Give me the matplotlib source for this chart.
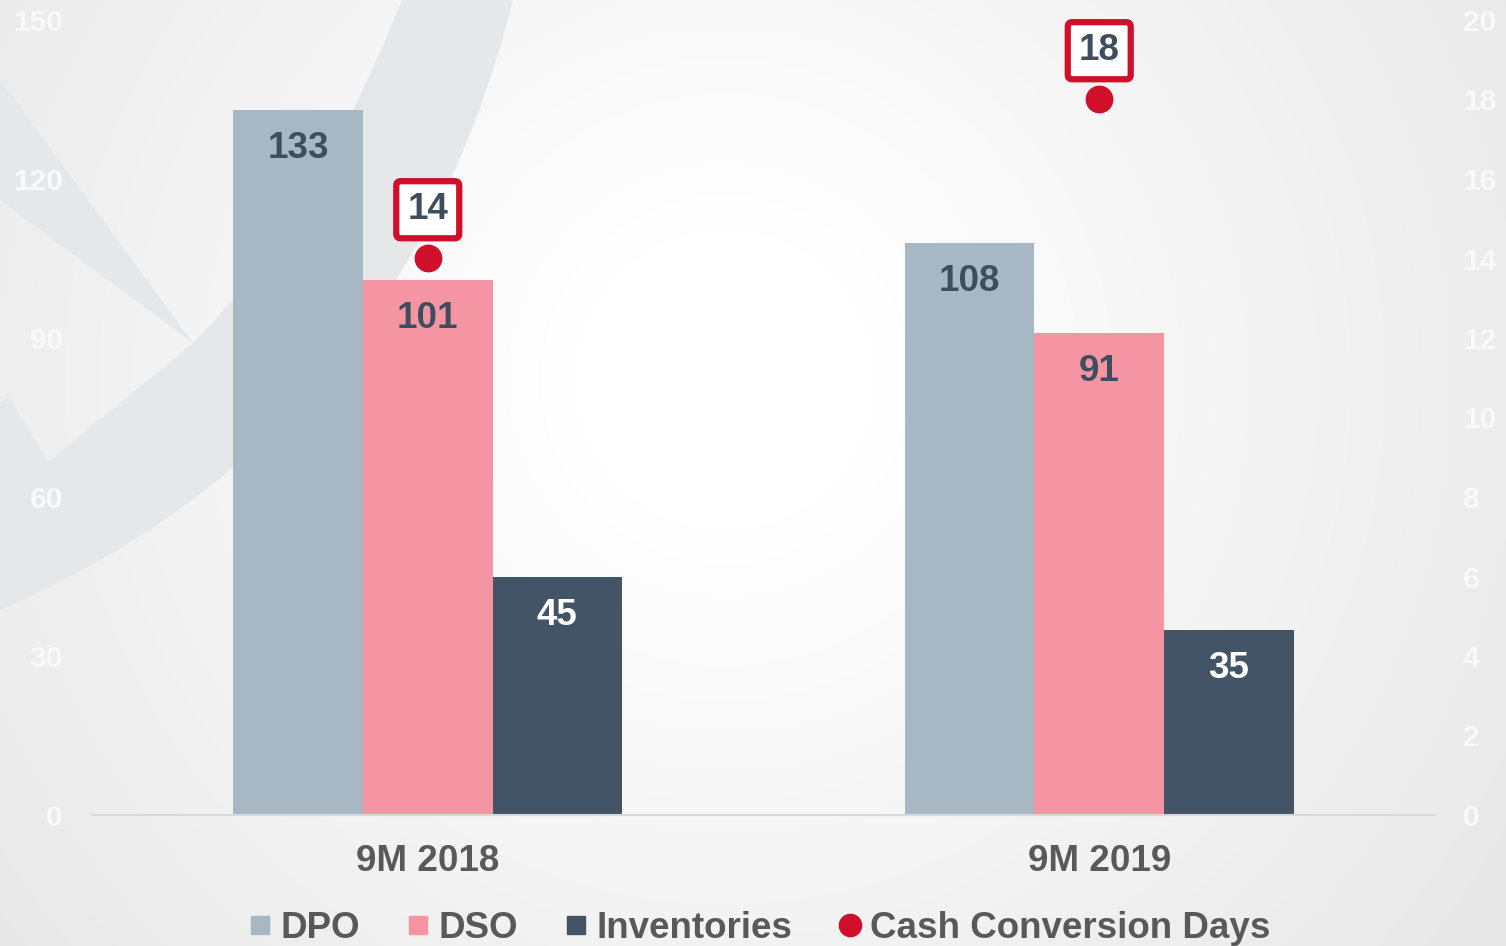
import matplotlib
matplotlib.use('Agg')
import matplotlib.pyplot as plt
from matplotlib.path import Path
from matplotlib.patches import PathPatch, Polygon
from matplotlib.lines import Line2D
import numpy as np

plt.rcParams['font.family'] = ['Liberation Sans', 'DejaVu Sans']
plt.rcParams['font.weight'] = 'bold'

categories = ['9M 2018', '9M 2019']
dpo = [133, 108]
dso = [101, 91]
inventories = [45, 35]
cash_days = [14, 18]
left_ticks = [0, 30, 60, 90, 120, 150]
right_ticks = [0, 2, 4, 6, 8, 10, 12, 14, 16, 18, 20]

c_dpo = '#A8B7C4'
c_dso = '#F595A4'
c_inv = '#425466'
c_red = '#D0102B'
c_lbl = '#3F4E5E'
c_txt = '#595959'

W, H = 1506, 946
fig = plt.figure(figsize=(W / 100, H / 100), dpi=100)

# background: radial gradient + grey swoosh
bg = fig.add_axes([0, 0, 1, 1], zorder=-5)
bg.set_xlim(0, W)
bg.set_ylim(H, 0)
bg.axis('off')
yy, xx = np.mgrid[0:H, 0:W]
r = np.hypot(xx - 725, yy - 380)
t = np.clip((r - 150) / 780, 0, 1)
shade = 1.0 - 0.09 * t
img = np.dstack([shade, shade, shade])
bg.imshow(img, extent=[0, W, H, 0], aspect='auto', zorder=0)

verts = [(513, 0), (404, 435), (0, 610),
         (0, 402), (9, 397), (48, 462), (193, 343),
         (310, 228), (402, 0), (513, 0)]
codes = [Path.MOVETO, Path.CURVE3, Path.CURVE3,
         Path.LINETO, Path.LINETO, Path.LINETO, Path.LINETO,
         Path.CURVE3, Path.CURVE3, Path.CLOSEPOLY]
bg.add_patch(PathPatch(Path(verts, codes), fc='#E6E7E9', ec='none', zorder=1))
bg.add_patch(Polygon([(0, 80), (193, 343), (0, 200)], closed=True,
                     fc='#E6E7E9', ec='none', zorder=1))

ax = fig.add_axes([92 / W, 131 / H, 1343 / W, 795 / H])
ax.patch.set_alpha(0)
x = np.arange(len(categories))
w = 0.193

b1 = ax.bar(x - w, dpo, w, color=c_dpo, zorder=2)
b2 = ax.bar(x, dso, w, color=c_dso, zorder=2)
b3 = ax.bar(x + w, inventories, w, color=c_inv, zorder=2)

for bars, vals, col in [(b1, dpo, c_lbl), (b2, dso, c_lbl), (b3, inventories, 'white')]:
    for b, v in zip(bars, vals):
        ax.annotate(str(v), (b.get_x() + b.get_width() / 2, v), xytext=(0, -25),
                    textcoords='offset points', ha='center', va='center_baseline',
                    fontsize=26.5, fontweight='bold', color=col)

ax.set_xlim(-0.5, 1.5)
ax.set_ylim(0, 150)
ax.set_yticks(left_ticks)
ax.set_xticks(x)
ax.set_xticklabels(categories)
ax.tick_params(axis='x', length=0, pad=21, labelsize=26.5, labelcolor=c_txt)
ax.tick_params(axis='y', length=0, pad=21, labelsize=21.5, labelcolor='#F9F9F9')
for s in ['top', 'left', 'right']:
    ax.spines[s].set_visible(False)
ax.spines['bottom'].set_color('#D9D9D9')
ax.spines['bottom'].set_linewidth(1.5)

ax2 = ax.twinx()
ax2.set_ylim(0, 20)
ax2.set_yticks(right_ticks)
ax2.tick_params(axis='y', length=0, pad=20, labelsize=21.5, labelcolor='#F9F9F9')
for s in ax2.spines.values():
    s.set_visible(False)
ax2.plot(x, cash_days, linestyle='none', marker='o', markersize=19,
         color=c_red, zorder=3)
for xi, v in zip(x, cash_days):
    ax2.annotate(str(v), (xi, v), xytext=(0, 38), textcoords='offset points',
                 ha='center', va='center_baseline', fontsize=26.5, fontweight='bold',
                 color=c_lbl,
                 bbox=dict(boxstyle='round,pad=0.3,rounding_size=0.12', fc='white',
                           ec=c_red, lw=4.5))

handles = [
    Line2D([], [], linestyle='none', marker='s', markersize=13, color=c_dpo),
    Line2D([], [], linestyle='none', marker='s', markersize=13, color=c_dso),
    Line2D([], [], linestyle='none', marker='s', markersize=13, color=c_inv),
    Line2D([], [], linestyle='none', marker='o', markersize=16, color=c_red),
]
leg = fig.legend(handles, ['DPO', 'DSO', 'Inventories', 'Cash Conversion Days'],
                 loc='center', bbox_to_anchor=(760 / W, 18 / H), ncol=4, frameon=False,
                 prop={'size': 26.5, 'weight': 'bold'}, handlelength=0.6,
                 handletextpad=0.25, columnspacing=1.28, borderpad=0, borderaxespad=0)
for txt in leg.get_texts():
    txt.set_color(c_txt)

fig.savefig('out.png', dpi=100)
